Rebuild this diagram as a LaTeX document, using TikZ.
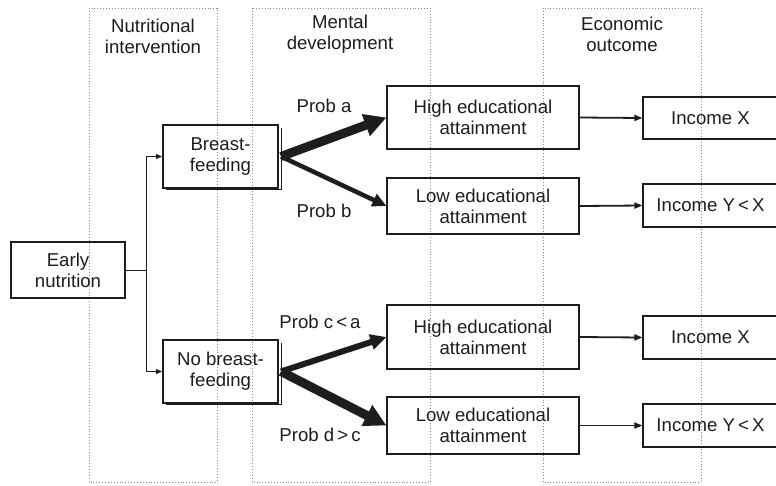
\documentclass[tikz,border=0pt]{standalone}
\usepackage{fontspec}
\setmainfont{Liberation Sans}
\usetikzlibrary{arrows.meta}
\definecolor{ink}{HTML}{1E1C1D}
\definecolor{dotc}{HTML}{8A8A8A}
\begin{document}
\begin{tikzpicture}[x=1pt,y=-1pt,
  txt/.style={font=\fontsize{18.6}{21}\selectfont, text=ink, align=center, inner sep=0pt},
  box/.style={txt, draw=ink, line width=1.1pt, rectangle},
  boldbox/.style={txt, draw=ink, line width=2pt, rectangle},
  col/.style={draw=dotc, dotted, line width=0.9pt},
  thin/.style={draw=ink, line width=1pt, -{Triangle[length=6pt,width=5pt]}},
  mid/.style={draw=ink, line width=1.8pt, -{Triangle[length=8pt,width=6pt]}},
  fat/.style={draw=ink, line width=9pt, -{Triangle[length=22pt,width=22pt]}},
  slim/.style={draw=ink, line width=4.5pt, -{Triangle[length=14pt,width=13pt]}},
  medfat/.style={draw=ink, line width=6pt, -{Triangle[length=16pt,width=15pt]}}
]
\useasboundingbox (0,0) rectangle (776,485);
% columns
\draw[col] (89,8) rectangle (217,482);
\draw[col] (252,8) rectangle (430,482);
\draw[col] (543,8) rectangle (701,482);
\node[txt] (h1) at (153,36) {Nutritional\\intervention};
\node[txt] (h2) at (340,34) {Mental\\development};
\node[txt] (h3) at (622,34) {Economic\\outcome};
% boxes
\node[box, minimum width=114pt, minimum height=56pt] (early) at (68,270) {Early\\nutrition};
\draw[ink, line width=1pt] (281,128) -- (281,189) -- (166,189);
\draw[ink, line width=1pt] (281,343) -- (281,404) -- (166,404);
\node[boldbox, minimum width=115pt, minimum height=63pt] (bf) at (220.5,156.5) {Breast-\\feeding};
\node[boldbox, minimum width=115pt, minimum height=63pt] (nbf) at (220.5,371.5) {No breast-\\feeding};
\node[box, minimum width=192pt, minimum height=63pt] (he1) at (483,117.5) {High educational\\attainment};
\node[box, minimum width=192pt, minimum height=56pt] (le1) at (483,206) {Low educational\\attainment};
\node[box, minimum width=192pt, minimum height=64pt] (he2) at (483,337) {High educational\\attainment};
\node[box, minimum width=192pt, minimum height=57pt] (le2) at (483,425.5) {Low educational\\attainment};
\node[box, minimum width=135pt, minimum height=42pt] (ix1) at (710.5,118) {Income X};
\node[box, minimum width=135pt, minimum height=43pt] (iy1) at (710.5,205.5) {Income Y\,<\,X};
\node[box, minimum width=135pt, minimum height=43pt] (ix2) at (710.5,337.5) {Income X};
\node[box, minimum width=135pt, minimum height=43pt] (iy2) at (710.5,425.5) {Income Y\,<\,X};
% labels
\node[txt] (pa) at (324,106) {Prob a};
\node[txt] (pb) at (324,211) {Prob b};
\node[txt] (pc) at (320,322) {Prob c\,<\,a};
\node[txt] (pd) at (320,435) {Prob d\,>\,c};
% connectors
\coordinate (j) at (146,270);
\draw[ink, line width=1pt] (early.east) -- (j);
\draw[thin] (j) |- (bf.west);
\draw[thin] (j) |- (nbf.west);
\coordinate (bfo) at ([xshift=2pt]bf.east);
\coordinate (nbfo) at ([xshift=2pt]nbf.east);
\draw[fat] (bfo) -- (he1.west);
\draw[slim] (bfo) -- (le1.west);
\draw[medfat] (nbfo) -- (he2.west);
\draw[fat] (nbfo) -- (le2.west);
\draw[mid] (he1.east) -- (ix1.west);
\draw[mid] (le1.east) -- (iy1.west);
\draw[mid] (he2.east) -- (ix2.west);
\draw[mid] (le2.east) -- (iy2.west);
\end{tikzpicture}
\end{document}
